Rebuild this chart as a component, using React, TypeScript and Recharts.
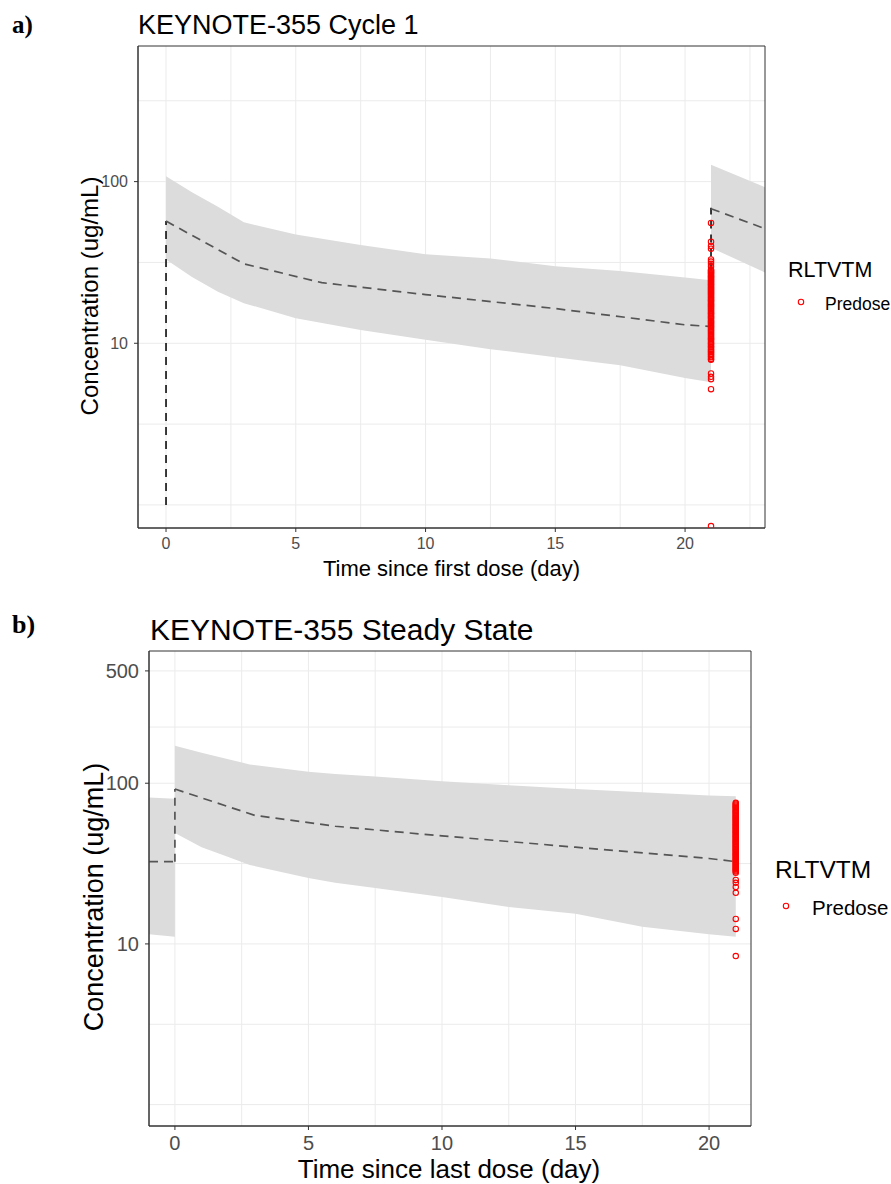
import React from 'react';
import { Area, CartesianGrid, ComposedChart, Line, ReferenceArea, Scatter, XAxis, YAxis } from 'recharts';

type Pt = { t: number; c: number };
type Band = { t: number; lo: number; hi: number };

// ---- a) KEYNOTE-355 Cycle 1 ----
const cycle1Band: Band[] = [
  { t: 0, lo: 33, hi: 108 },
  { t: 1, lo: 25.7, hi: 86 },
  { t: 2, lo: 20.8, hi: 70 },
  { t: 3, lo: 17.7, hi: 56 },
  { t: 5, lo: 14.3, hi: 47 },
  { t: 7.5, lo: 12.1, hi: 40.5 },
  { t: 10, lo: 10.5, hi: 35.5 },
  { t: 12.5, lo: 9.2, hi: 33.5 },
  { t: 15, lo: 8.2, hi: 30 },
  { t: 17.5, lo: 7.3, hi: 28 },
  { t: 20, lo: 6.1, hi: 25.5 },
  { t: 21, lo: 5.75, hi: 24.5 },
];
const cycle2Band: Band[] = [
  { t: 21, lo: 39, hi: 127 },
  { t: 23.1, lo: 27.3, hi: 92 },
];
const cycle1Median: Pt[] = [
  { t: 0, c: 57 }, { t: 3, c: 31 }, { t: 6, c: 23.7 }, { t: 10, c: 20 },
  { t: 15, c: 16.4 }, { t: 20, c: 13 }, { t: 21, c: 12.7 },
];
const cycle2Median: Pt[] = [{ t: 21, c: 68 }, { t: 23.1, c: 51 }];
const cycle1DoseA: Pt[] = [{ t: 0, c: 1 }, { t: 0, c: 57 }];
const cycle1DoseB: Pt[] = [{ t: 21, c: 12.7 }, { t: 21, c: 69 }];
const cycle1Predose: number[] = [
  55.5, 42.5, 40, 38.5, 33, 32, 31, 29.8,
  28.5, 28.2, 27.8, 27.4, 27.1, 26.7, 26.3, 26, 25.6, 25.3, 24.9, 24.6, 24.2, 23.9, 23.5,
  23.2, 22.9, 22.5, 22.2, 21.9, 21.6, 21.3, 21, 20.7, 20.4, 20.1, 19.8, 19.5, 19.2, 18.9,
  18.6, 18.4, 18.1, 17.8, 17.5, 17.3, 17, 16.8, 16.5, 16.3, 16, 15.8, 15.5, 15.3, 15.1,
  14.8, 14.6, 14.4, 14.2, 13.9, 13.7, 13.5, 13.3, 13.1, 12.9, 12.7, 12.5, 12.3, 12.1, 11.9,
  11.7, 11.5, 11.3, 11.1, 10.9, 10.7, 10.6, 10.4, 10.2, 10, 9.9, 9.7, 9.5, 9.4, 9.2, 9.1,
  8.9, 8.8, 8.6, 8.5, 8.3, 8.2, 8.0, 7.9, 6.5, 6.2, 6.0, 5.2, 0.74,
];

// ---- b) KEYNOTE-355 Steady State ----
const preBand: Band[] = [
  { t: -0.97, lo: 11.5, hi: 81.5 },
  { t: 0, lo: 11.1, hi: 80 },
];
const ssBand: Band[] = [
  { t: 0, lo: 49, hi: 171 },
  { t: 1, lo: 40, hi: 155 },
  { t: 2, lo: 34.8, hi: 141 },
  { t: 2.8, lo: 31, hi: 131 },
  { t: 5, lo: 25.7, hi: 118 },
  { t: 6, lo: 24, hi: 114 },
  { t: 7.5, lo: 22.3, hi: 110 },
  { t: 10, lo: 19.6, hi: 103 },
  { t: 12.5, lo: 17, hi: 97 },
  { t: 15, lo: 15.4, hi: 92 },
  { t: 17.5, lo: 12.8, hi: 88 },
  { t: 20, lo: 11.5, hi: 84 },
  { t: 21, lo: 11.1, hi: 83 },
];
const preMedian: Pt[] = [{ t: -0.97, c: 32.5 }, { t: 0, c: 32.5 }];
const ssMedian: Pt[] = [
  { t: 0, c: 92 }, { t: 3, c: 63 }, { t: 6, c: 54 }, { t: 10, c: 47 },
  { t: 15, c: 40 }, { t: 20, c: 34 }, { t: 21, c: 32.5 },
];
const ssDose: Pt[] = [{ t: 0, c: 32.5 }, { t: 0, c: 92 }];
const ssPredose: number[] = [
  75.5, 74.5, 73.5, 72.5, 71.5, 70.5, 69.5, 68.5, 67.5, 66.6, 65.7, 64.8, 63.9, 63, 62.1,
  61.3, 60.5, 59.6, 58.8, 58, 57.2, 56.4, 55.6, 54.8, 54.1, 53.3, 52.6, 51.9, 51.2, 50.5,
  49.8, 49.1, 48.4, 47.7, 47.1, 46.4, 45.8, 45.2, 44.5, 43.9, 43.3, 42.7, 42.1, 41.6, 41,
  40.4, 39.9, 39.3, 38.8, 38.3, 37.7, 37.2, 36.7, 36.2, 35.7, 35.2, 34.7, 34.2, 33.8, 33.3,
  32.9, 32.4, 32, 31.5, 31.1, 30.7, 30.2, 29.8, 29.4, 29, 28.6, 28.2, 27.7, 25, 24, 22.6,
  20.8, 14.3, 12.4, 8.4,
];

const FONT = '"Liberation Sans", Arial, sans-serif';
const SERIF = '"Liberation Serif", "Times New Roman", serif';

interface PanelProps {
  top: number;
  height: number;
  margin: { top: number; right: number; bottom: number; left: number };
  yWidth: number;
  xHeight: number;
  xDomain: [number, number];
  yDomain: [number, number];
  xTicks: number[];
  yTicks: number[];
  gridX: number[];
  gridY: number[];
  bands: Band[][];
  medians: Pt[][];
  doses: Pt[][];
  doseColor: string;
  predose: number[];
  predoseT: number;
  tickSize: number;
  tickGap: number;
}

const Panel = (p: PanelProps) => {
  const rows: any[] = [];
  p.bands.forEach((b, i) => b.forEach(r => rows.push({ t: r.t, ['b' + i]: [r.lo, r.hi] })));
  const pts = p.predose.map(c => ({ t: p.predoseT, c }));
  const tick = { fill: '#4d4d4d', fontSize: p.tickSize, fontFamily: FONT };
  return (
    <div style={{ position: 'absolute', left: 0, top: p.top }}>
      <ComposedChart width={891} height={p.height} data={rows} margin={p.margin}>
        <CartesianGrid stroke="#ebebeb" horizontalValues={p.gridY} verticalValues={p.gridX} />
        <XAxis dataKey="t" type="number" domain={p.xDomain} allowDataOverflow ticks={p.xTicks}
               height={p.xHeight} tick={tick} tickSize={4} tickMargin={p.tickGap}
               axisLine={{ stroke: '#333333' }} tickLine={{ stroke: '#333333' }} />
        <YAxis type="number" scale="log" domain={p.yDomain} allowDataOverflow ticks={p.yTicks}
               width={p.yWidth} tick={tick} tickSize={4} tickMargin={p.tickGap}
               axisLine={{ stroke: '#333333' }} tickLine={{ stroke: '#333333' }} />
        {p.bands.map((_, i) => (
          <Area key={'band' + i} dataKey={'b' + i} type="linear" stroke="none" fill="#dcdcdc"
                fillOpacity={1} connectNulls={false} dot={false} activeDot={false}
                isAnimationActive={false} />
        ))}
        {p.doses.map((d, i) => (
          <Line key={'dose' + i} data={d} dataKey="c" type="linear" stroke={p.doseColor}
                strokeWidth={1.7} strokeDasharray="8 6" dot={false} activeDot={false}
                isAnimationActive={false} />
        ))}
        {p.medians.map((m, i) => (
          <Line key={'med' + i} data={m} dataKey="c" type="linear" stroke="#555555"
                strokeWidth={1.7} strokeDasharray="9 6" dot={false} activeDot={false}
                isAnimationActive={false} />
        ))}
        <Scatter data={pts} dataKey="c" isAnimationActive={false}
                 shape={(s: any) => (
                   <circle cx={s.cx} cy={s.cy} r={2.7} fill="none" stroke="#ff0000" strokeWidth={1.1} />
                 )} />
        <ReferenceArea x1={p.xDomain[0]} x2={p.xDomain[1]} y1={p.yDomain[0]} y2={p.yDomain[1]}
                       fill="none" stroke="#333333" strokeWidth={1} ifOverflow="visible" />
      </ComposedChart>
    </div>
  );
};

const Txt = ({ x, base, size, children, center, family, weight }: any) => (
  <div style={{
    position: 'absolute', left: x, top: base - 0.8465 * size, fontSize: size, lineHeight: 1,
    whiteSpace: 'nowrap', fontFamily: family || FONT, fontWeight: weight || 'normal', color: '#000',
    transform: center ? 'translateX(-50%)' : undefined,
  }}>{children}</div>
);

const VTxt = ({ cx, cy, size, children }: any) => (
  <div style={{
    position: 'absolute', left: cx, top: cy, fontSize: size, lineHeight: 1, whiteSpace: 'nowrap',
    fontFamily: FONT, color: '#000', transform: 'translate(-50%, -50%) rotate(-90deg)',
  }}>{children}</div>
);

const LegendDot = ({ cx, cy }: any) => (
  <svg style={{ position: 'absolute', left: cx - 5, top: cy - 5 }} width={10} height={10}>
    <circle cx={5} cy={5} r={2.7} fill="none" stroke="#ff0000" strokeWidth={1.1} />
  </svg>
);

export default function App() {
  return (
    <div style={{ position: 'absolute', left: 0, top: 0, width: 891, height: 1184, background: '#fff' }}>
      <Panel top={0} height={590} margin={{ top: 46, right: 126, bottom: 22, left: 0 }}
             yWidth={138} xHeight={40} xDomain={[-1.08, 23.08]} yDomain={[0.72, 690]}
             xTicks={[0, 5, 10, 15, 20]} yTicks={[10, 100]}
             gridX={[0, 2.5, 5, 7.5, 10, 12.5, 15, 17.5, 20, 22.5]}
             gridY={[1, 3.162, 10, 31.62, 100, 316.2]}
             bands={[cycle1Band, cycle2Band]} medians={[cycle1Median, cycle2Median]}
             doses={[cycle1DoseA, cycle1DoseB]} doseColor="#1a1a1a"
             predose={cycle1Predose} predoseT={21} tickSize={16} tickGap={6} />
      <Panel top={590} height={594} margin={{ top: 61, right: 140, bottom: 13, left: 0 }}
             yWidth={149} xHeight={45} xDomain={[-0.97, 21.57]} yDomain={[0.736, 665]}
             xTicks={[0, 5, 10, 15, 20]} yTicks={[10, 100, 500]}
             gridX={[0, 2.5, 5, 7.5, 10, 12.5, 15, 17.5, 20]}
             gridY={[1, 3.162, 10, 31.62, 100, 223.6, 500]}
             bands={[preBand, ssBand]} medians={[preMedian, ssMedian]}
             doses={[ssDose]} doseColor="#555555"
             predose={ssPredose} predoseT={21} tickSize={20} tickGap={6} />

      <Txt x={12} base={33} size={25} family={SERIF} weight="bold">a)</Txt>
      <Txt x={138} base={35} size={27}>KEYNOTE-355 Cycle 1</Txt>
      <Txt x={451.5} base={577} size={22} center>Time since first dose (day)</Txt>
      <VTxt cx={90} cy={296} size={24}>Concentration (ug/mL)</VTxt>
      <Txt x={788} base={278} size={21.5}>RLTVTM</Txt>
      <LegendDot cx={801} cy={302} />
      <Txt x={825} base={310.5} size={17.5}>Predose</Txt>

      <Txt x={12} base={634} size={26} family={SERIF} weight="bold">b)</Txt>
      <Txt x={150} base={640} size={30}>KEYNOTE-355 Steady State</Txt>
      <Txt x={449} base={1178} size={26} center>Time since last dose (day)</Txt>
      <VTxt cx={94} cy={897} size={27}>Concentration (ug/mL)</VTxt>
      <Txt x={775} base={879} size={24.5}>RLTVTM</Txt>
      <LegendDot cx={786} cy={906} />
      <Txt x={812} base={915} size={20.5}>Predose</Txt>
    </div>
  );
}
